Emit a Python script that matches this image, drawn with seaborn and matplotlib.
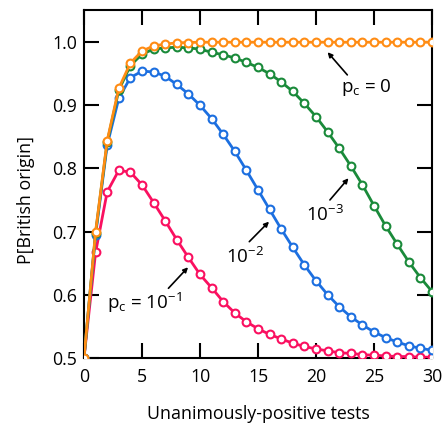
import numpy as np
import pandas as pd
import matplotlib
matplotlib.use("Agg")
import matplotlib.pyplot as plt
import seaborn as sns

# ---- data ----
tests = list(range(0, 31))
p_c0 = [0.5, 0.700, 0.844, 0.927, 0.967, 0.986, 0.994, 0.997, 0.999, 0.9995,
        1.0, 1.0, 1.0, 1.0, 1.0, 1.0, 1.0, 1.0, 1.0, 1.0, 1.0, 1.0, 1.0, 1.0,
        1.0, 1.0, 1.0, 1.0, 1.0, 1.0, 1.0]
p_c1e3 = [0.5, 0.698, 0.842, 0.924, 0.963, 0.981, 0.989, 0.991, 0.992, 0.991,
          0.989, 0.984, 0.980, 0.975, 0.968, 0.960, 0.950, 0.937, 0.922, 0.903,
          0.882, 0.858, 0.832, 0.804, 0.774, 0.741, 0.709, 0.680, 0.652, 0.627,
          0.605]
p_c1e2 = [0.5, 0.695, 0.837, 0.911, 0.944, 0.954, 0.953, 0.946, 0.933, 0.918,
          0.900, 0.879, 0.854, 0.827, 0.797, 0.766, 0.735, 0.704, 0.675, 0.647,
          0.622, 0.600, 0.581, 0.565, 0.552, 0.541, 0.532, 0.525, 0.519, 0.515,
          0.512]
p_c1e1 = [0.5, 0.667, 0.763, 0.797, 0.794, 0.774, 0.746, 0.717, 0.687, 0.659,
          0.632, 0.611, 0.589, 0.571, 0.557, 0.546, 0.537, 0.530, 0.523, 0.518,
          0.514, 0.511, 0.508, 0.507, 0.505, 0.504, 0.503, 0.502, 0.502, 0.501,
          0.501]

series_names = ["1e-1", "1e-2", "1e-3", "0"]
series_values = [p_c1e1, p_c1e2, p_c1e3, p_c0]
colors = ["#FA1060", "#1C6FE0", "#1A8A3A", "#FF8C14"]

x_ticks = [0, 5, 10, 15, 20, 25, 30]
y_ticks = [0.5, 0.6, 0.7, 0.8, 0.9, 1.0]
x_label = "Unanimously-positive tests"
y_label = "P[British origin]"

# ---- style ----
sns.set_style("ticks")
FONT = "Open Sans"
plt.rcParams["font.family"] = [FONT, "DejaVu Sans"]
plt.rcParams["mathtext.fontset"] = "custom"
plt.rcParams["mathtext.rm"] = FONT
plt.rcParams["mathtext.it"] = FONT
plt.rcParams["mathtext.default"] = "rm"
for k in ["text.color", "axes.labelcolor", "xtick.color", "ytick.color",
          "xtick.labelcolor", "ytick.labelcolor"]:
    plt.rcParams[k] = "black"

TS = 12.8   # tick / axis label size
AS = 13.5   # annotation size

fig = plt.figure(figsize=(4.42, 4.24), dpi=100)
ax = fig.add_axes([84 / 442, 1 - 357.8 / 424, (432 - 84) / 442, (357.8 - 10) / 424])

for name, vals, col in zip(series_names, series_values, colors):
    df = pd.DataFrame({"n": tests, "p": vals})
    sns.lineplot(data=df, x="n", y="p", ax=ax, color=col, linewidth=2.0,
                 marker="o", markersize=5.6, markerfacecolor="white",
                 markeredgecolor=col, markeredgewidth=1.5, clip_on=True,
                 zorder=3)

ax.set_xlim(0, 30)
ax.set_ylim(0.5, 1.051)
ax.set_xticks(x_ticks)
ax.set_yticks(y_ticks)
ax.set_yticklabels([f"{v:.1f}" for v in y_ticks])
ax.tick_params(direction="in", length=11, width=1.5, top=True, right=True,
               labelsize=TS, color="black", labelcolor="black")
ax.tick_params(axis="x", pad=7)
ax.tick_params(axis="y", pad=5)
for s in ax.spines.values():
    s.set_linewidth(1.5)
    s.set_color("black")

ax.set_xlabel(x_label, fontsize=TS, labelpad=14, color="black")
ax.set_ylabel(y_label, fontsize=TS, color="black")
ax.yaxis.set_label_coords(-0.14, 0.454)

def yv(py):
    return 1.0 - (py - 42.3) / 631

arrow = dict(arrowstyle="-|>", color="black", lw=1.2, mutation_scale=7,
             shrinkA=0, shrinkB=0)
ax.annotate("", xy=(21.0, yv(52.3)), xytext=(22.7, yv(75)), arrowprops=arrow)
ax.text(24.3, yv(88), r"p$_\mathregular{c}$ = 0", ha="center", va="center", fontsize=AS)

ax.annotate("", xy=(22.8, yv(178.3)), xytext=(21.2, yv(200)), arrowprops=arrow)
ax.text(20.8, yv(215), r"10$^{-3}$", ha="center", va="center", fontsize=AS)

ax.annotate("", xy=(15.95, yv(221.7)), xytext=(14.25, yv(241.7)), arrowprops=arrow)
ax.text(13.9, yv(256.7), r"10$^{-2}$", ha="center", va="center", fontsize=AS)

ax.annotate("", xy=(8.97, yv(267.3)), xytext=(7.28, yv(288.3)), arrowprops=arrow)
ax.text(5.2, yv(303), r"p$_\mathregular{c}$ = 10$^{-1}$", ha="center", va="center", fontsize=AS)

fig.savefig("out.png", dpi=100)
